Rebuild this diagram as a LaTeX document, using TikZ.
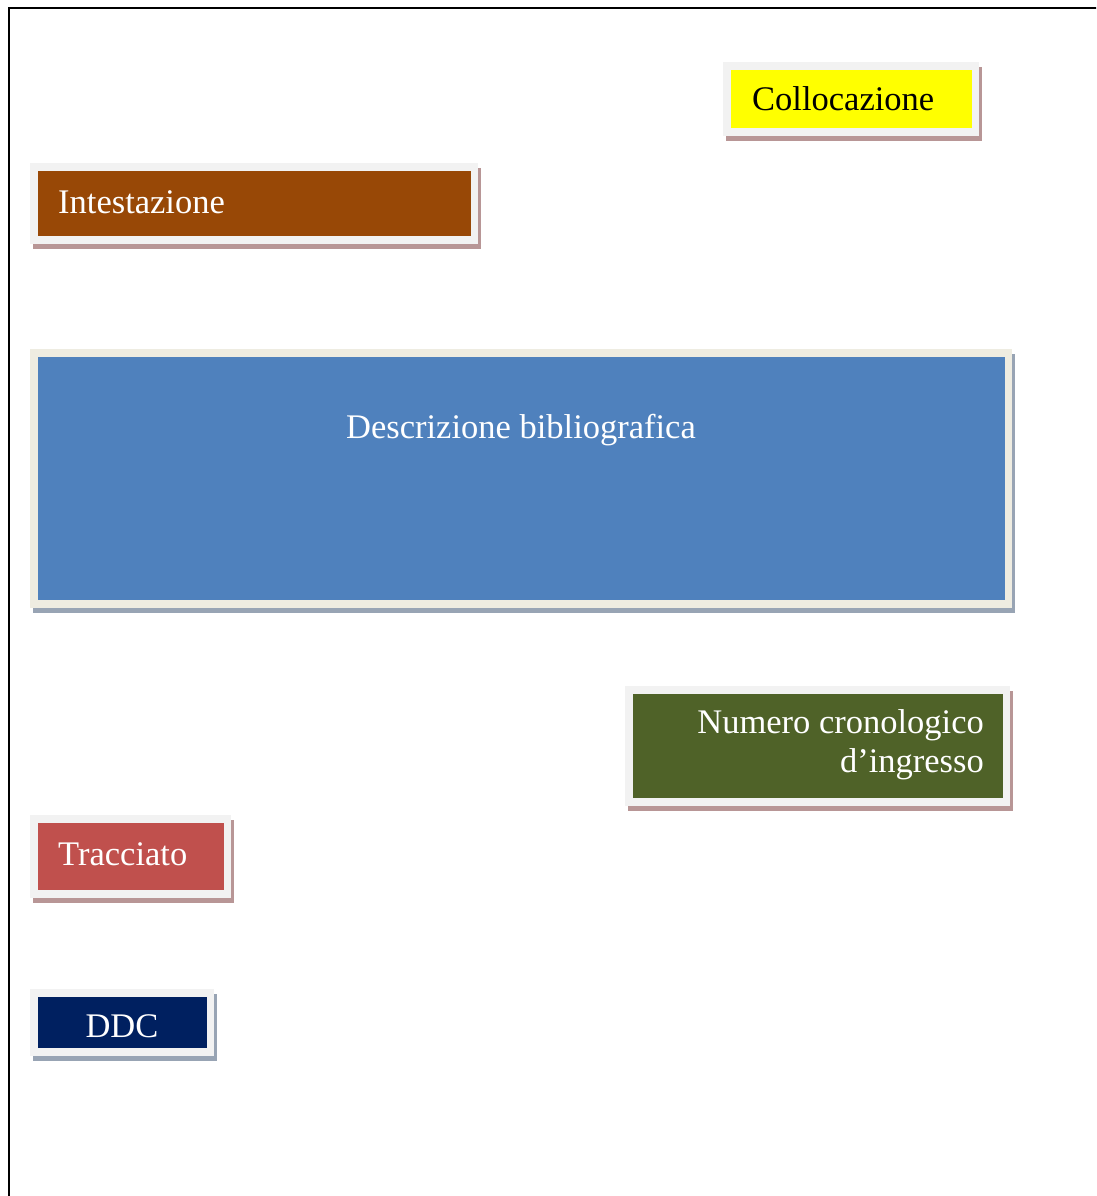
\documentclass[tikz,border=0pt]{standalone}
\usepackage{fontspec}
\setmainfont{Liberation Serif}
\definecolor{shadowrose}{HTML}{B89696}
\definecolor{shadowblue}{HTML}{98A4B4}
\definecolor{framegray}{HTML}{F2F2F2}
\definecolor{framebeige}{HTML}{EEECE1}
\definecolor{cyellow}{HTML}{FFFF00}
\definecolor{cbrown}{HTML}{984806}
\definecolor{cblue}{HTML}{4F81BD}
\definecolor{cgreen}{HTML}{4F6228}
\definecolor{cred}{HTML}{C0504D}
\definecolor{cnavy}{HTML}{002060}
\tikzset{
  lbl/.style={inner sep=0pt, font=\fontsize{34.5}{39.7}\selectfont},
  whitelbl/.style={lbl, text=white},
}
\newcommand{\mybox}[8]{% name, x1,y1,x2,y2, shadowcol, framecol, fillcol
  \fill[#6] (#2+3,#3+5) rectangle (#4+3,#5+5);
  \fill[#7] (#2,#3) rectangle (#4,#5);
  \fill[#8] (#2+8,#3+8) rectangle (#4-7,#5-8);
  \coordinate (#1) at ({(#2+#4)/2},{(#3+#5)/2});
}
\begin{document}
\begin{tikzpicture}[x=1pt,y=-1pt]
\useasboundingbox (0,0) rectangle (1096,1196);
\clip (0,0) rectangle (1096,1196);
\fill[white] (0,0) rectangle (1096,1196);
\draw[line width=2.8pt] (9,1200) -- (9,8) -- (1100,8);

\mybox{colloc}{723}{62}{979}{136}{shadowrose}{framegray}{cyellow}
\node[lbl, anchor=base west] (tcolloc) at (752,111) {Collocazione};

\mybox{intest}{30}{163}{478}{244}{shadowrose}{framegray}{cbrown}
\node[whitelbl, anchor=base west] (tintest) at (58,213) {Intestazione};

\mybox{descr}{30}{349}{1012}{608}{shadowblue}{framebeige}{cblue}
\node[whitelbl, anchor=base] (tdescr) at (521,438) {Descrizione bibliografica};

\mybox{numero}{625}{686}{1010}{806}{shadowrose}{framegray}{cgreen}
\node[whitelbl, anchor=base east] (tnum1) at (984,733) {Numero cronologico};
\node[whitelbl, anchor=base east] (tnum2) at (984,772) {d’ingresso};

\mybox{tracc}{30}{815}{231}{898}{shadowrose}{framegray}{cred}
\node[whitelbl, anchor=base west] (ttracc) at (58,865) {Tracciato};

\mybox{ddc}{30}{989}{214}{1056}{shadowblue}{framegray}{cnavy}
\node[whitelbl, anchor=base] (tddc) at (122,1037) {DDC};
\end{tikzpicture}
\end{document}
